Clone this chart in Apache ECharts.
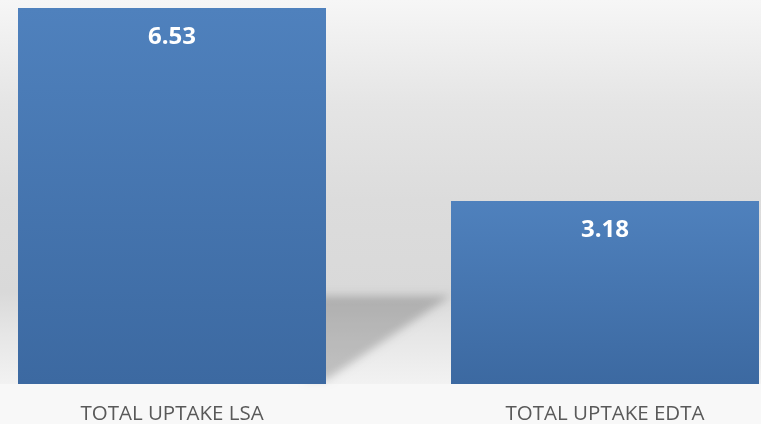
<!DOCTYPE html>
<html><head><meta charset="utf-8">
<script src="https://cdn.jsdelivr.net/npm/echarts@6/dist/echarts.min.js"></script>
<style>html,body{margin:0;padding:0;background:#f5f5f5}#c{width:761px;height:424px}</style>
</head><body><div id="c"></div>
<script>
const categories = ['TOTAL UPTAKE LSA', 'TOTAL UPTAKE EDTA'];
const values = [6.53, 3.18];

const chart = echarts.init(document.getElementById('c'), null, {renderer: 'canvas'});
const BAR_W = 308;
chart.setOption({
  animation: false,
  grid: {left: -44.5, right: -60.5, top: 8, bottom: 40, containLabel: false, outerBoundsMode: 'none'},
  xAxis: {
    type: 'category', data: categories,
    axisLine: {show: false}, axisTick: {show: false},
    axisLabel: {color: '#595959', fontFamily: 'Open Sans', fontSize: 20.5, margin: 20}
  },
  yAxis: {type: 'value', min: 0, max: 6.53, show: false, splitLine: {show: false}},
  series: [{
    type: 'bar', data: values, barWidth: BAR_W, z: 5,
    itemStyle: {color: {type: 'linear', x: 0, y: 0, x2: 0, y2: 1, colorStops: [
      {offset: 0, color: '#4f81bd'}, {offset: 1, color: '#3c69a1'}]}},
    label: {show: true, position: 'insideTop', distance: 17, color: '#ffffff',
      fontFamily: 'Open Sans', fontWeight: 'bold', fontSize: 24,
      formatter: p => p.value.toFixed(2)}
  }]
});

const b0 = chart.convertToPixel({seriesIndex: 0}, [0, 0]);
const t0 = chart.convertToPixel({seriesIndex: 0}, [0, values[0]]);
const b1 = chart.convertToPixel({seriesIndex: 0}, [1, 0]);
const x1r = b0[0] + BAR_W / 2;
const x2l = b1[0] - BAR_W / 2;
const yb = b0[1];
const ys = yb - 0.235 * (yb - t0[1]);
const OFF = 2000;
chart.setOption({
  graphic: [
    {type: 'rect', z: -10, silent: true,
     shape: {x: 0, y: 0, width: 761, height: yb},
     style: {fill: {type: 'linear', x: 0, y: 0, x2: 0, y2: 1, colorStops: [
       {offset: 0, color: '#f6f6f6'}, {offset: 0.13, color: '#eeeeee'},
       {offset: 0.27, color: '#e5e5e5'}, {offset: 0.52, color: '#dcdcdc'},
       {offset: 0.76, color: '#d9d9d9'}, {offset: 0.87, color: '#e6e6e6'},
       {offset: 1, color: '#f2f2f2'}]}}},
    {type: 'rect', z: -10, silent: true,
     shape: {x: 0, y: yb, width: 761, height: 424 - yb},
     style: {fill: '#f8f8f8'}},
    {type: 'polygon', z: -5, silent: true,
     shape: {points: [[x1r - 20 - OFF, ys], [x2l - OFF, ys], [x1r - OFF, yb - 4], [x1r - 20 - OFF, yb - 4]]},
     style: {fill: '#000000', shadowColor: 'rgba(0,0,0,0.2)', shadowBlur: 8, shadowOffsetX: OFF}}
  ]
});
</script></body></html>
